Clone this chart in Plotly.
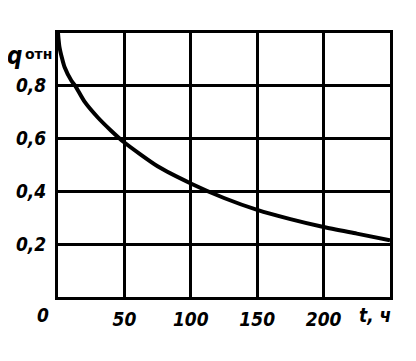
import plotly.graph_objects as go

# data
t_hours = [0, 1, 3, 5, 10, 13, 20, 30, 40, 50, 75, 100, 125, 150, 175, 200, 225, 250]
q_rel = [1.0, 0.95, 0.905, 0.87, 0.82, 0.80, 0.74, 0.68, 0.63, 0.585, 0.495, 0.43, 0.375, 0.33, 0.295, 0.265, 0.24, 0.215]
x_ticks = [50, 100, 150, 200]
x_labels = ["50", "100", "150", "200"]
y_ticks = [0.2, 0.4, 0.6, 0.8]
y_labels = ["0,2", "0,4", "0,6", "0,8"]

FONT = "DejaVu Sans Condensed"
tfont = dict(family=FONT, size=19, color="black", style="italic", weight="bold")

fig = go.Figure()
fig.add_trace(go.Scatter(x=t_hours, y=q_rel, mode="lines",
                         line=dict(color="black", width=4, shape="spline", smoothing=0.6),
                         showlegend=False, hoverinfo="skip"))

fig.update_layout(
    width=400, height=345,
    margin=dict(l=50, r=18, t=25, b=56, autoexpand=False),
    paper_bgcolor="white", plot_bgcolor="white",
    xaxis=dict(range=[0, 250], tickvals=x_ticks, ticktext=x_labels, tickfont=tfont,
               showgrid=True, gridcolor="black", gridwidth=2.5, zeroline=False,
               showline=True, linecolor="black", linewidth=3, mirror=True,
               ticks="", ticklabelstandoff=3, automargin=False),
    yaxis=dict(range=[0, 1.0], tickvals=y_ticks, ticktext=y_labels, tickfont=tfont,
               showgrid=True, gridcolor="black", gridwidth=2.5, zeroline=False,
               showline=True, linecolor="black", linewidth=3, mirror=True,
               ticks="", ticklabelstandoff=5, automargin=False),
)

fig.add_annotation(x=0, y=0, xref="x", yref="y", text="0", showarrow=False,
                   xanchor="center", yanchor="top", xshift=-15, yshift=-5, font=tfont)
fig.add_annotation(x=250, y=0, xref="x", yref="y", text="t, ч", showarrow=False,
                   xanchor="center", yanchor="top", xshift=-15, yshift=-5, font=tfont)
fig.add_annotation(x=0, y=1.0, xref="x", yref="y", text="q",
                   showarrow=False, xanchor="right", yanchor="middle", xshift=-34, yshift=-23,
                   font=dict(family=FONT, size=24, color="black", style="italic", weight="bold"))
fig.add_annotation(x=0, y=1.0, xref="x", yref="y", text="отн",
                   showarrow=False, xanchor="right", yanchor="middle", xshift=-4, yshift=-21,
                   font=dict(family="DejaVu Sans", size=14, color="black", weight="bold"))

fig.write_html("out.html")
